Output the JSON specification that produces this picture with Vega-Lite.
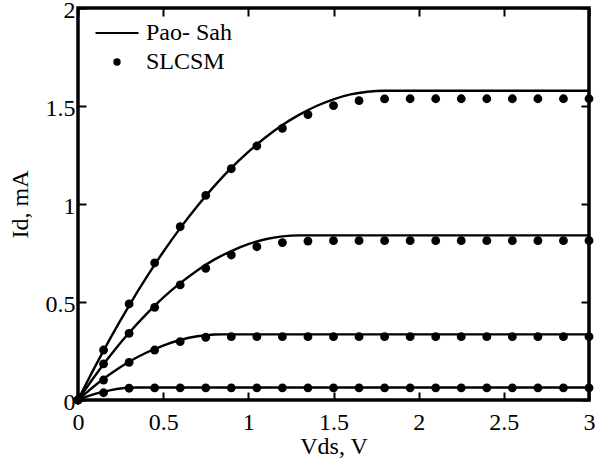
{
  "$schema": "https://vega.github.io/schema/vega-lite/v6.json",
  "width": 511,
  "height": 392,
  "autosize": {"type": "none"},
  "padding": {"left": 78, "top": 8, "right": 10, "bottom": 70},
  "background": "white",
  "datasets": {
    "lines": [
      {"curve": "c1", "x": 0, "y": 0}, {"curve": "c1", "x": 0.1, "y": 0.17}, {"curve": "c1", "x": 0.2, "y": 0.331}, {"curve": "c1", "x": 0.3, "y": 0.482}, {"curve": "c1", "x": 0.4, "y": 0.623}, {"curve": "c1", "x": 0.5, "y": 0.755}, {"curve": "c1", "x": 0.6, "y": 0.877}, {"curve": "c1", "x": 0.7, "y": 0.989}, {"curve": "c1", "x": 0.8, "y": 1.091}, {"curve": "c1", "x": 0.9, "y": 1.184}, {"curve": "c1", "x": 1.0, "y": 1.266}, {"curve": "c1", "x": 1.1, "y": 1.339}, {"curve": "c1", "x": 1.2, "y": 1.403}, {"curve": "c1", "x": 1.3, "y": 1.456}, {"curve": "c1", "x": 1.4, "y": 1.5}, {"curve": "c1", "x": 1.5, "y": 1.534}, {"curve": "c1", "x": 1.6, "y": 1.559}, {"curve": "c1", "x": 1.7, "y": 1.573}, {"curve": "c1", "x": 1.8, "y": 1.578}, {"curve": "c1", "x": 3.0, "y": 1.578},
      {"curve": "c2", "x": 0, "y": 0}, {"curve": "c2", "x": 0.1, "y": 0.124}, {"curve": "c2", "x": 0.2, "y": 0.239}, {"curve": "c2", "x": 0.3, "y": 0.343}, {"curve": "c2", "x": 0.4, "y": 0.437}, {"curve": "c2", "x": 0.5, "y": 0.522}, {"curve": "c2", "x": 0.6, "y": 0.596}, {"curve": "c2", "x": 0.7, "y": 0.661}, {"curve": "c2", "x": 0.8, "y": 0.716}, {"curve": "c2", "x": 0.9, "y": 0.76}, {"curve": "c2", "x": 1.0, "y": 0.795}, {"curve": "c2", "x": 1.1, "y": 0.82}, {"curve": "c2", "x": 1.2, "y": 0.835}, {"curve": "c2", "x": 1.3, "y": 0.84}, {"curve": "c2", "x": 3.0, "y": 0.84},
      {"curve": "c3", "x": 0, "y": 0}, {"curve": "c3", "x": 0.05, "y": 0.038}, {"curve": "c3", "x": 0.1, "y": 0.074}, {"curve": "c3", "x": 0.15, "y": 0.108}, {"curve": "c3", "x": 0.2, "y": 0.139}, {"curve": "c3", "x": 0.3, "y": 0.195}, {"curve": "c3", "x": 0.4, "y": 0.241}, {"curve": "c3", "x": 0.5, "y": 0.278}, {"curve": "c3", "x": 0.6, "y": 0.306}, {"curve": "c3", "x": 0.7, "y": 0.325}, {"curve": "c3", "x": 0.8, "y": 0.334}, {"curve": "c3", "x": 0.85, "y": 0.335}, {"curve": "c3", "x": 3.0, "y": 0.335},
      {"curve": "c4", "x": 0, "y": 0}, {"curve": "c4", "x": 0.05, "y": 0.017}, {"curve": "c4", "x": 0.1, "y": 0.031}, {"curve": "c4", "x": 0.15, "y": 0.043}, {"curve": "c4", "x": 0.2, "y": 0.052}, {"curve": "c4", "x": 0.25, "y": 0.059}, {"curve": "c4", "x": 0.3, "y": 0.063}, {"curve": "c4", "x": 0.35, "y": 0.064}, {"curve": "c4", "x": 3.0, "y": 0.064}
    ],
    "points": [
      {"kind": "SLCSM", "curve": "c1", "x": 0, "y": 0}, {"kind": "SLCSM", "curve": "c1", "x": 0.15, "y": 0.255}, {"kind": "SLCSM", "curve": "c1", "x": 0.3, "y": 0.49}, {"kind": "SLCSM", "curve": "c1", "x": 0.45, "y": 0.7}, {"kind": "SLCSM", "curve": "c1", "x": 0.6, "y": 0.884}, {"kind": "SLCSM", "curve": "c1", "x": 0.75, "y": 1.044}, {"kind": "SLCSM", "curve": "c1", "x": 0.9, "y": 1.18}, {"kind": "SLCSM", "curve": "c1", "x": 1.05, "y": 1.296}, {"kind": "SLCSM", "curve": "c1", "x": 1.2, "y": 1.386}, {"kind": "SLCSM", "curve": "c1", "x": 1.35, "y": 1.456}, {"kind": "SLCSM", "curve": "c1", "x": 1.5, "y": 1.502}, {"kind": "SLCSM", "curve": "c1", "x": 1.65, "y": 1.527}, {"kind": "SLCSM", "curve": "c1", "x": 1.8, "y": 1.536}, {"kind": "SLCSM", "curve": "c1", "x": 1.95, "y": 1.537}, {"kind": "SLCSM", "curve": "c1", "x": 2.1, "y": 1.537}, {"kind": "SLCSM", "curve": "c1", "x": 2.25, "y": 1.537}, {"kind": "SLCSM", "curve": "c1", "x": 2.4, "y": 1.537}, {"kind": "SLCSM", "curve": "c1", "x": 2.55, "y": 1.537}, {"kind": "SLCSM", "curve": "c1", "x": 2.7, "y": 1.537}, {"kind": "SLCSM", "curve": "c1", "x": 2.85, "y": 1.537}, {"kind": "SLCSM", "curve": "c1", "x": 3.0, "y": 1.537},
      {"kind": "SLCSM", "curve": "c2", "x": 0, "y": 0}, {"kind": "SLCSM", "curve": "c2", "x": 0.15, "y": 0.184}, {"kind": "SLCSM", "curve": "c2", "x": 0.3, "y": 0.34}, {"kind": "SLCSM", "curve": "c2", "x": 0.45, "y": 0.473}, {"kind": "SLCSM", "curve": "c2", "x": 0.6, "y": 0.587}, {"kind": "SLCSM", "curve": "c2", "x": 0.75, "y": 0.672}, {"kind": "SLCSM", "curve": "c2", "x": 0.9, "y": 0.74}, {"kind": "SLCSM", "curve": "c2", "x": 1.05, "y": 0.782}, {"kind": "SLCSM", "curve": "c2", "x": 1.2, "y": 0.803}, {"kind": "SLCSM", "curve": "c2", "x": 1.35, "y": 0.811}, {"kind": "SLCSM", "curve": "c2", "x": 1.5, "y": 0.813}, {"kind": "SLCSM", "curve": "c2", "x": 1.65, "y": 0.813}, {"kind": "SLCSM", "curve": "c2", "x": 1.8, "y": 0.813}, {"kind": "SLCSM", "curve": "c2", "x": 1.95, "y": 0.813}, {"kind": "SLCSM", "curve": "c2", "x": 2.1, "y": 0.813}, {"kind": "SLCSM", "curve": "c2", "x": 2.25, "y": 0.813}, {"kind": "SLCSM", "curve": "c2", "x": 2.4, "y": 0.813}, {"kind": "SLCSM", "curve": "c2", "x": 2.55, "y": 0.813}, {"kind": "SLCSM", "curve": "c2", "x": 2.7, "y": 0.813}, {"kind": "SLCSM", "curve": "c2", "x": 2.85, "y": 0.813}, {"kind": "SLCSM", "curve": "c2", "x": 3.0, "y": 0.813},
      {"kind": "SLCSM", "curve": "c3", "x": 0, "y": 0}, {"kind": "SLCSM", "curve": "c3", "x": 0.15, "y": 0.102}, {"kind": "SLCSM", "curve": "c3", "x": 0.3, "y": 0.192}, {"kind": "SLCSM", "curve": "c3", "x": 0.45, "y": 0.255}, {"kind": "SLCSM", "curve": "c3", "x": 0.6, "y": 0.298}, {"kind": "SLCSM", "curve": "c3", "x": 0.75, "y": 0.32}, {"kind": "SLCSM", "curve": "c3", "x": 0.9, "y": 0.323}, {"kind": "SLCSM", "curve": "c3", "x": 1.05, "y": 0.323}, {"kind": "SLCSM", "curve": "c3", "x": 1.2, "y": 0.323}, {"kind": "SLCSM", "curve": "c3", "x": 1.35, "y": 0.323}, {"kind": "SLCSM", "curve": "c3", "x": 1.5, "y": 0.323}, {"kind": "SLCSM", "curve": "c3", "x": 1.65, "y": 0.323}, {"kind": "SLCSM", "curve": "c3", "x": 1.8, "y": 0.323}, {"kind": "SLCSM", "curve": "c3", "x": 1.95, "y": 0.323}, {"kind": "SLCSM", "curve": "c3", "x": 2.1, "y": 0.323}, {"kind": "SLCSM", "curve": "c3", "x": 2.25, "y": 0.323}, {"kind": "SLCSM", "curve": "c3", "x": 2.4, "y": 0.323}, {"kind": "SLCSM", "curve": "c3", "x": 2.55, "y": 0.323}, {"kind": "SLCSM", "curve": "c3", "x": 2.7, "y": 0.323}, {"kind": "SLCSM", "curve": "c3", "x": 2.85, "y": 0.323}, {"kind": "SLCSM", "curve": "c3", "x": 3.0, "y": 0.323},
      {"kind": "SLCSM", "curve": "c4", "x": 0, "y": 0}, {"kind": "SLCSM", "curve": "c4", "x": 0.15, "y": 0.037}, {"kind": "SLCSM", "curve": "c4", "x": 0.3, "y": 0.06}, {"kind": "SLCSM", "curve": "c4", "x": 0.45, "y": 0.062}, {"kind": "SLCSM", "curve": "c4", "x": 0.6, "y": 0.062}, {"kind": "SLCSM", "curve": "c4", "x": 0.75, "y": 0.062}, {"kind": "SLCSM", "curve": "c4", "x": 0.9, "y": 0.062}, {"kind": "SLCSM", "curve": "c4", "x": 1.05, "y": 0.062}, {"kind": "SLCSM", "curve": "c4", "x": 1.2, "y": 0.062}, {"kind": "SLCSM", "curve": "c4", "x": 1.35, "y": 0.062}, {"kind": "SLCSM", "curve": "c4", "x": 1.5, "y": 0.062}, {"kind": "SLCSM", "curve": "c4", "x": 1.65, "y": 0.062}, {"kind": "SLCSM", "curve": "c4", "x": 1.8, "y": 0.062}, {"kind": "SLCSM", "curve": "c4", "x": 1.95, "y": 0.062}, {"kind": "SLCSM", "curve": "c4", "x": 2.1, "y": 0.062}, {"kind": "SLCSM", "curve": "c4", "x": 2.25, "y": 0.062}, {"kind": "SLCSM", "curve": "c4", "x": 2.4, "y": 0.062}, {"kind": "SLCSM", "curve": "c4", "x": 2.55, "y": 0.062}, {"kind": "SLCSM", "curve": "c4", "x": 2.7, "y": 0.062}, {"kind": "SLCSM", "curve": "c4", "x": 2.85, "y": 0.062}, {"kind": "SLCSM", "curve": "c4", "x": 3.0, "y": 0.062}
    ]
  },
  "layer": [
    {
      "data": {"name": "lines"},
      "mark": {"type": "line", "color": "black", "strokeWidth": 2.4, "interpolate": "monotone", "clip": false},
      "encoding": {
        "x": {"field": "x", "type": "quantitative", "scale": {"domain": [0, 3], "nice": false, "zero": false},
          "axis": {"orient": "bottom", "title": "Vds, V", "values": [0, 0.5, 1, 1.5, 2, 2.5, 3], "format": "~g", "grid": false, "domain": false, "ticks": false,
            "labelPadding": 10, "labelFont": "Liberation Serif", "labelFontSize": 24, "labelColor": "black", "labelFlush": false, "labelOverlap": false, "labelBound": false,
            "titlePadding": 0, "titleFont": "Liberation Serif", "titleFontSize": 24, "titleFontWeight": "normal", "titleColor": "black"}},
        "y": {"field": "y", "type": "quantitative", "scale": {"domain": [0, 2], "nice": false, "zero": false},
          "axis": {"orient": "left", "title": "Id, mA", "values": [0, 0.5, 1, 1.5, 2], "format": "~g", "grid": false, "domain": false, "ticks": false,
            "labelPadding": 3, "labelOffset": 2, "labelFont": "Liberation Serif", "labelFontSize": 24, "labelColor": "black", "labelFlush": false, "labelOverlap": false, "labelBound": false,
            "titlePadding": 13, "titleFont": "Liberation Serif", "titleFontSize": 24, "titleFontWeight": "normal", "titleColor": "black"}},
        "detail": {"field": "curve"}
      }
    },
    {
      "data": {"name": "points"},
      "mark": {"type": "point", "filled": true, "color": "black", "size": 78, "opacity": 1, "clip": false},
      "encoding": {
        "x": {"field": "x", "type": "quantitative",
          "axis": {"orient": "top", "offset": -392, "values": [0, 0.5, 1, 1.5, 2, 2.5, 3], "grid": false, "domain": false, "labels": false, "title": null, "tickSize": 8, "tickColor": "black", "tickWidth": 2}},
        "y": {"field": "y", "type": "quantitative",
          "axis": {"orient": "right", "offset": -511, "values": [0, 0.5, 1, 1.5, 2], "grid": false, "domain": false, "labels": false, "title": null, "tickSize": 8, "tickColor": "black", "tickWidth": 2}},
        "shape": {"field": "kind", "type": "nominal",
          "scale": {"domain": ["Pao- Sah", "SLCSM"], "range": ["M-5.8,-0.3H5.8V0.3H-5.8Z", "circle"]},
          "legend": {"orient": "none", "legendX": 27, "legendY": 13, "title": null, "padding": 0,
            "labelFont": "Liberation Serif", "labelFontSize": 24, "labelColor": "black", "labelOffset": 17,
            "symbolSize": 55, "rowPadding": 5, "labelBaseline": "middle",
            "encode": {"symbols": {"update": {"fill": {"value": "black"}, "stroke": {"value": "black"}, "strokeWidth": {"value": 0}, "opacity": {"value": 1}, "fillOpacity": {"value": 1}, "size": {"value": 55}}}}}
        }
      }
    },
    {
      "data": {"name": "lines"},
      "mark": {"type": "point", "opacity": 0, "clip": false},
      "encoding": {
        "x": {"field": "x", "type": "quantitative",
          "axis": {"orient": "bottom", "offset": -392, "values": [0, 0.5, 1, 1.5, 2, 2.5, 3], "grid": false, "domain": false, "labels": false, "title": null, "tickSize": 8, "tickColor": "black", "tickWidth": 2}},
        "y": {"field": "y", "type": "quantitative",
          "axis": {"orient": "left", "offset": -511, "values": [0, 0.5, 1, 1.5, 2], "grid": false, "domain": false, "labels": false, "title": null, "tickSize": 8, "tickColor": "black", "tickWidth": 2}}
      }
    }
  ],
  "resolve": {"axis": {"x": "independent", "y": "independent"}},
  "config": {
    "view": {"stroke": "black", "strokeWidth": 3.5}
  }
}
